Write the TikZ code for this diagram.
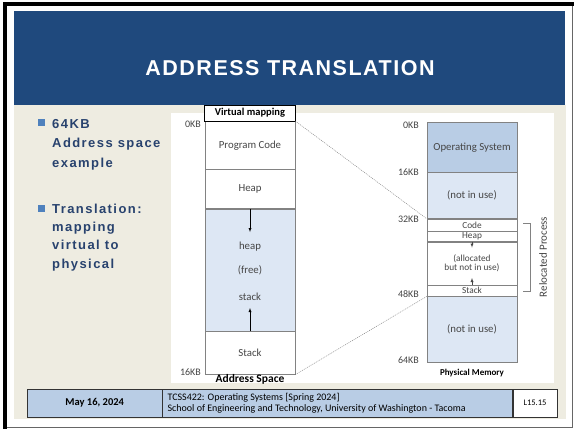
\documentclass[tikz,border=0pt]{standalone}
\usepackage{fontspec}
\setmainfont{Carlito}
\newfontfamily\headfont[LetterSpace=7]{Liberation Sans}
\newfontfamily\bulletfont[LetterSpace=11]{Liberation Sans}
\usetikzlibrary{positioning,arrows.meta}

\definecolor{slideblue}{RGB}{31,73,125}
\definecolor{slidebeige}{RGB}{238,236,225}
\definecolor{bullettext}{RGB}{40,66,110}
\definecolor{bulletsq}{RGB}{79,129,189}
\definecolor{osfill}{RGB}{185,205,229}
\definecolor{freefill}{RGB}{221,231,244}
\definecolor{segline}{RGB}{130,130,130}
\definecolor{segtext}{RGB}{70,70,70}

\tikzset{
  seg/.style={draw=segline, fill=white, minimum width=90pt, inner sep=0pt,
    font=\fontsize{10.8}{12}\selectfont, text=segtext},
  smallseg/.style={seg, font=\fontsize{9.3}{9.5}\selectfont},
  kb/.style={anchor=east, inner sep=0pt, font=\fontsize{10}{10}\selectfont, text=segtext},
  caption/.style={inner sep=0pt, font=\fontsize{9}{10}\selectfont\bfseries},
  bulletitem/.style={anchor=north west, inner sep=0pt, align=left, text=bullettext,
    font=\bulletfont\bfseries\fontsize{13}{19.5}\selectfont},
  footcell/.style={draw=black!80, anchor=north west, minimum height=28pt, inner sep=0pt},
  mapline/.style={draw=black!55, dash pattern=on 1pt off 1pt},
}

\begin{document}
\begin{tikzpicture}[x=1pt, y=-1pt]
  \useasboundingbox (0,0) rectangle (574,429);
  % slide frame
  \fill[white] (0,0) rectangle (574,429);
  \draw[black!60] (572,4) -- (572,427) -- (5,427);
  \draw[line width=4pt] (5,429) -- (5,3.5) -- (574,3.5);
  \fill[slideblue] (14,11) rectangle (565,105);
  \fill[slidebeige] (14,105) rectangle (566,419);
  \node[text=white, font=\headfont\bfseries\fontsize{21.5}{22}\selectfont] (title) at (290,68) {ADDRESS TRANSLATION};

  % bullets on the left
  \fill[bulletsq] (38,119) rectangle (45,126);
  \fill[bulletsq] (38,204.5) rectangle (45,211.5);
  \node[bulletitem] (b1) at (52,119) {64KB\\Address space\\example};
  \node[bulletitem, font=\bulletfont\bfseries\fontsize{13}{18.4}\selectfont] (b2) at (52,203.5)
    {Translation:\\mapping\\virtual to\\physical};

  % white drawing area
  \fill[white] (171,113) rectangle (554,383);

  % virtual address space
  \node[seg, anchor=north, minimum height=48pt] (vcode) at (250,121) {Program Code};
  \node[seg, below=0pt of vcode, minimum height=39pt] (vheap) {Heap};
  \node[seg, below=0pt of vheap, minimum height=122pt, fill=freefill] (vfree) {};
  \node[seg, below=0pt of vfree, minimum height=43pt] (vstack) {Stack};
  \node[seg, text=black, anchor=south, draw=black, minimum width=91pt, minimum height=16pt,
    font=\fontsize{10.5}{11}\selectfont\bfseries] (vmap) at (250,121) {Virtual mapping};
  \node[seg, draw=none, fill=none] (wheap) at (250,247) {heap};
  \node[seg, draw=none, fill=none] (wfree) at (250,270) {(free)};
  \node[seg, draw=none, fill=none] (wstack) at (250,297) {stack};
  \draw[-latex] (vheap.south) -- (250,232);
  \draw[-latex] (vstack.north) -- (250,308);
  \node[kb] (v0) at (201,124) {0KB};
  \node[kb] (v16) at (201,372) {16KB};
  \node[caption, font=\fontsize{11.5}{12}\selectfont\bfseries] (vcap) at (250,379) {Address Space};

  % physical memory
  \node[seg, anchor=north, minimum height=50pt, fill=osfill] (pos) at (472,122) {Operating System};
  \node[seg, below=0pt of pos, minimum height=46pt, fill=freefill] (pfree1) {(not in use)};
  \node[smallseg, below=0pt of pfree1, minimum height=12pt] (pcode) {Code};
  \node[smallseg, below=0pt of pcode, minimum height=10pt] (pheap) {Heap};
  \node[smallseg, below=0pt of pheap, minimum height=43pt, align=center] (palloc) {(allocated\\[-0.5pt]but not in use)};
  \node[smallseg, below=0pt of palloc, minimum height=11pt] (pstack) {Stack};
  \node[seg, below=0pt of pstack, minimum height=66pt, fill=freefill] (pfree2) {(not in use)};
  \draw[-latex, segtext] (pheap.south) -- ++(0,6);
  \draw[-latex, segtext] (pstack.north) -- ++(0,-7);
  \node[kb] (p0) at (419,125) {0KB};
  \node[kb] (p16) at (419,172) {16KB};
  \node[kb] (p32) at (419,219) {32KB};
  \node[kb] (p48) at (419,294) {48KB};
  \node[kb] (p64) at (419,360) {64KB};
  \node[caption] (pcap) at (472,373) {Physical Memory};

  % relocated process bracket
  \draw[segline] ([shift={(6,4)}]pcode.north east) -- ++(7,0)
    |- ([shift={(6,-5)}]pstack.south east);
  \node[rotate=90, text=segtext, font=\fontsize{11}{12}\selectfont] (reloc) at (543,257) {Relocated Process};

  % mapping lines
  \draw[mapline] (vcode.north east) -- (pcode.north west);
  \draw[mapline] (vstack.south east) -- (pstack.south west);

  % footer
  \node[footcell, fill=osfill, minimum width=135pt, font=\fontsize{10.5}{11}\selectfont\bfseries] (fdate) at (27,389) {May 16, 2024};
  \node[footcell, fill=osfill, minimum width=350pt, right=0pt of fdate, anchor=west] (fcourse) {};
  \node[footcell, fill=white, minimum width=44pt, right=0pt of fcourse, anchor=west,
    font=\fontsize{8.5}{9}\selectfont] (fslide) {L15.15};
  \node[anchor=west, inner sep=0pt, align=left, font=\fontsize{10}{11}\selectfont] (ftext)
    at ([xshift=5pt]fcourse.west) {TCSS422: Operating Systems [Spring 2024]\\School of Engineering and Technology, University of Washington - Tacoma};
\end{tikzpicture}
\end{document}
